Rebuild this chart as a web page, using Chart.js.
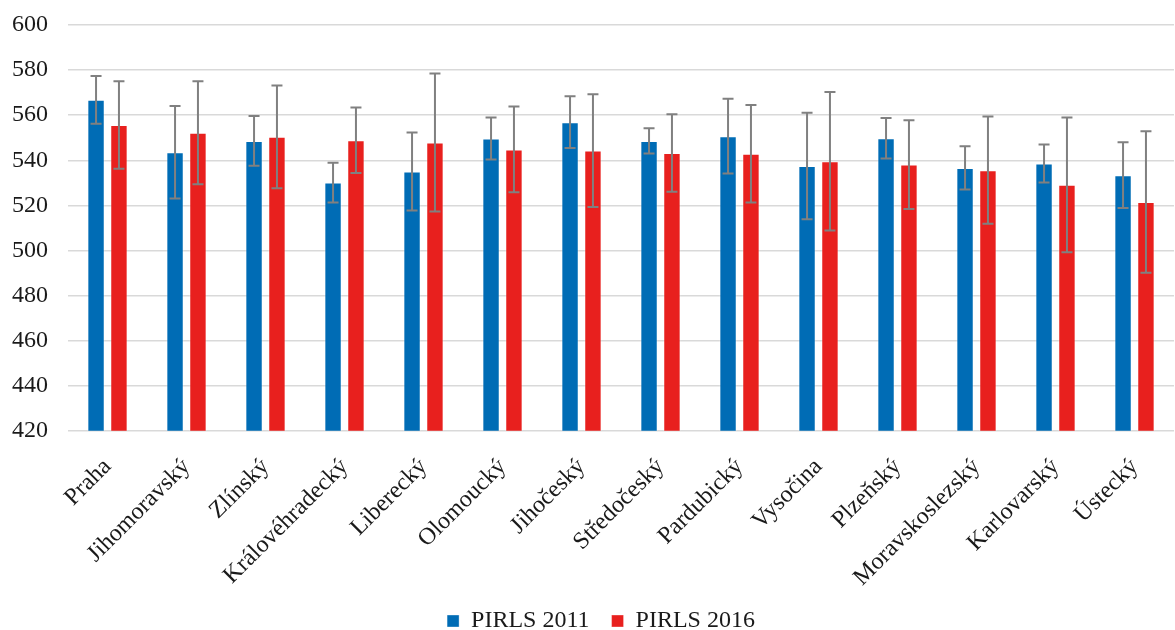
<!DOCTYPE html>
<html>
<head>
<meta charset="utf-8">
<script src="https://cdn.jsdelivr.net/npm/chart.js@4"></script>
<style>
html,body{margin:0;padding:0;background:#fff;}
#wrap{width:1175px;height:630px;position:relative;}
</style>
</head>
<body>
<div id="wrap"><canvas id="c"></canvas></div>
<script>
const categories = ["Praha","Jihomoravský","Zlínský","Královéhradecký","Liberecký","Olomoucký","Jihočeský","Středočeský","Pardubický","Vysočina","Plzeňský","Moravskoslezský","Karlovarský","Ústecký"];
const pirls2011 = [566.8, 543.6, 548.6, 530.1, 535.0, 549.7, 556.9, 548.6, 550.7, 537.5, 549.8, 536.6, 538.6, 533.4];
const pirls2016 = [555.7, 552.2, 550.4, 548.9, 547.9, 544.8, 544.3, 543.2, 542.9, 539.6, 538.1, 535.6, 529.1, 521.5];
const err2011 = [10.6, 20.5, 11.0, 8.8, 17.3, 9.3, 11.5, 5.6, 16.6, 23.6, 9.0, 9.6, 8.4, 14.6];
const err2016 = [19.4, 22.8, 22.8, 14.5, 30.6, 19.0, 25.0, 17.2, 21.6, 30.7, 19.7, 23.8, 29.9, 31.4];
const yTicks = [420, 440, 460, 480, 500, 520, 540, 560, 580, 600];

const errorBars = {
  id: 'errorBars',
  afterDatasetsDraw(chart) {
    const ctx = chart.ctx;
    const ys = chart.scales.y;
    ctx.save();
    ctx.strokeStyle = '#808080';
    ctx.lineWidth = 2;
    chart.data.datasets.forEach((ds, di) => {
      const meta = chart.getDatasetMeta(di);
      meta.data.forEach((el, i) => {
        const v = ds.data[i], e = ds.errors[i];
        const yt = ys.getPixelForValue(v + e);
        const yb = ys.getPixelForValue(v - e);
        const x = el.x, hw = 5.5;
        ctx.beginPath();
        ctx.moveTo(x, yt); ctx.lineTo(x, yb);
        ctx.moveTo(x - hw, yt); ctx.lineTo(x + hw, yt);
        ctx.moveTo(x - hw, yb); ctx.lineTo(x + hw, yb);
        ctx.stroke();
      });
    });
    ctx.restore();
  }
};

const legendShift = {
  id: 'legendShift',
  afterLayout(chart) {
    if (chart.legend) { chart.legend.left += 18; chart.legend.right += 18; }
  }
};

new Chart(document.getElementById('c'), {
  type: 'bar',
  data: {
    labels: categories,
    datasets: [
      { label: 'PIRLS 2011', data: pirls2011, errors: err2011, backgroundColor: '#006CB5', borderColor: 'rgba(255,255,255,0.35)', borderWidth: 1, categoryPercentage: 0.58, barPercentage: 0.76 },
      { label: 'PIRLS 2016', data: pirls2016, errors: err2016, backgroundColor: '#E8201E', borderColor: 'rgba(255,255,255,0.35)', borderWidth: 1, categoryPercentage: 0.58, barPercentage: 0.76 }
    ]
  },
  options: {
    responsive: true,
    maintainAspectRatio: false,
    animation: false,
    devicePixelRatio: 1,
    layout: { padding: { top: 25, right: 1, left: -8, bottom: -13 } },
    plugins: {
      tooltip: { enabled: false },
      legend: {
        position: 'bottom',
        labels: {
          font: { family: 'Liberation Serif', size: 24 },
          color: '#1a1a1a',
          boxWidth: 12, boxHeight: 12,
          padding: 22
        }
      }
    },
    scales: {
      x: {
        grid: { display: false },
        border: { display: false },
        afterFit(axis) { axis.height -= 19; },
        ticks: {
          font: { family: 'Liberation Serif', size: 24 },
          color: '#1a1a1a',
          minRotation: 45, maxRotation: 45,
          autoSkip: false,
          padding: 14
        }
      },
      y: {
        min: 420, max: 600,
        afterBuildTicks(axis) { axis.ticks = yTicks.map(v => ({ value: v })); },
        afterFit(axis) { axis.paddingTop = 0; },
        grid: { color: '#d9d9d9', lineWidth: 1.5, drawTicks: false },
        border: { display: false },
        ticks: {
          font: { family: 'Liberation Serif', size: 24 },
          color: '#1a1a1a',
          padding: 20
        }
      }
    }
  },
  plugins: [errorBars, legendShift]
});
</script>
</body>
</html>
